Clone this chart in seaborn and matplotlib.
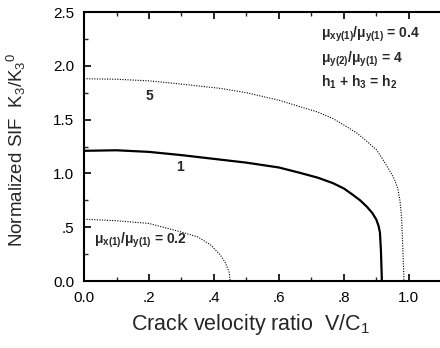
import numpy as np
import pandas as pd
import matplotlib
matplotlib.use("Agg")
import matplotlib.pyplot as plt
import seaborn as sns

# curve for mu ratio 5 (dotted)
x_5 = [0.0, 0.1, 0.2, 0.3, 0.42, 0.5, 0.6, 0.665, 0.72, 0.766, 0.8, 0.84, 0.87, 0.9,
       0.92, 0.94, 0.955, 0.966, 0.973, 0.978, 0.982, 0.985]
y_5 = [1.88, 1.875, 1.86, 1.83, 1.79, 1.75, 1.68, 1.62, 1.57, 1.51, 1.45, 1.375, 1.30, 1.22,
       1.13, 1.03, 0.95, 0.86, 0.74, 0.57, 0.26, 0.0]

# curve for mu ratio 1 (solid)
x_1 = [0.0, 0.1, 0.2, 0.3, 0.4, 0.5, 0.6, 0.665, 0.72, 0.766, 0.8, 0.828, 0.85, 0.871,
       0.888, 0.9, 0.907, 0.911, 0.914, 0.917]
y_1 = [1.21, 1.215, 1.20, 1.17, 1.135, 1.10, 1.055, 1.005, 0.96, 0.91, 0.86, 0.80, 0.75, 0.69,
       0.63, 0.57, 0.51, 0.45, 0.29, 0.0]

# curve for mu ratio 0.2 (dotted)
x_02 = [0.0, 0.1, 0.2, 0.3, 0.35, 0.39, 0.42, 0.435, 0.447, 0.45]
y_02 = [0.575, 0.56, 0.535, 0.455, 0.41, 0.335, 0.24, 0.17, 0.08, 0.0]

xticks = [0.0, 0.2, 0.4, 0.6, 0.8, 1.0]
xticklabels = ["0.0", ".2", ".4", ".6", ".8", "1.0"]
yticks = [0.0, 0.5, 1.0, 1.5, 2.0, 2.5]
yticklabels = ["0.0", ".5", "1.0", "1.5", "2.0", "2.5"]

sns.set_style("ticks")
plt.rcParams['font.family'] = ['Liberation Sans', 'DejaVu Sans']
plt.rcParams['mathtext.fontset'] = 'custom'
plt.rcParams['mathtext.rm'] = 'Liberation Sans'
plt.rcParams['mathtext.it'] = 'Liberation Sans'
plt.rcParams['mathtext.bf'] = 'Liberation Sans:bold'

fig = plt.figure(figsize=(4.4, 3.48), dpi=100)
ax = fig.add_axes([0.191, 0.1925, 0.812, 0.773])

df5 = pd.DataFrame({"v": x_5, "k": y_5})
df1 = pd.DataFrame({"v": x_1, "k": y_1})
df02 = pd.DataFrame({"v": x_02, "k": y_02})

sns.lineplot(data=df5, x="v", y="k", ax=ax, color="black", lw=0.8,
             linestyle=(0, (1, 1.3)), sort=False, estimator=None)
sns.lineplot(data=df1, x="v", y="k", ax=ax, color="black", lw=1.6,
             sort=False, estimator=None)
sns.lineplot(data=df02, x="v", y="k", ax=ax, color="black", lw=0.8,
             linestyle=(0, (1, 1.3)), sort=False, estimator=None)

ax.set_xlim(0, 1.1)
ax.set_ylim(0, 2.5)
ax.set_xticks(xticks)
ax.set_xticklabels(xticklabels)
ax.set_yticks(yticks)
ax.set_yticklabels(yticklabels)
ax.set_xticks(np.arange(0.1, 1.1, 0.2), minor=True)
ax.set_yticks(np.arange(0.25, 2.5, 0.5), minor=True)
ax.tick_params(axis="both", which="major", labelsize=11, length=5, width=1.2,
               direction="out", color="black", labelcolor="black", pad=7)
ax.tick_params(axis="both", which="minor", length=3, width=1, direction="out")
ax.tick_params(top=True, which="both", direction="in")

for s in ax.spines.values():
    s.set_linewidth(1.5)
    s.set_color("black")

ax.set_xlabel("Crack velocity ratio  V/C$_1$", fontsize=15.5)
ax.set_ylabel("Normalized SIF  K$_3$/K$_3$$^0$", fontsize=13.5)
ax.xaxis.set_label_coords(0.465, -0.115)
ax.yaxis.set_label_coords(-0.158, 0.49)

ax.text(0.20, 1.72, "5", fontsize=10, fontweight="bold", ha="center", va="center")
ax.text(0.295, 1.06, "1", fontsize=10, fontweight="bold", ha="center", va="center")
ax.text(0.03, 0.38, r"$\mathbf{\mu_{x(1)}/\mu_{y(1)}}$ = 0.2", fontsize=10,
        fontweight="bold", ha="left", va="center")
ax.text(0.73, 2.29, r"$\mathbf{\mu_{xy(1)}/\mu_{y(1)}}$ = 0.4", fontsize=10,
        fontweight="bold", ha="left", va="center")
ax.text(0.73, 2.06, r"$\mathbf{\mu_{y(2)}/\mu_{y(1)}}$ = 4", fontsize=10,
        fontweight="bold", ha="left", va="center")
ax.text(0.73, 1.85, r"$\mathbf{h_1}$ + $\mathbf{h_3}$ = $\mathbf{h_2}$", fontsize=10,
        fontweight="bold", ha="left", va="center")

fig.savefig("out.png", dpi=100)
